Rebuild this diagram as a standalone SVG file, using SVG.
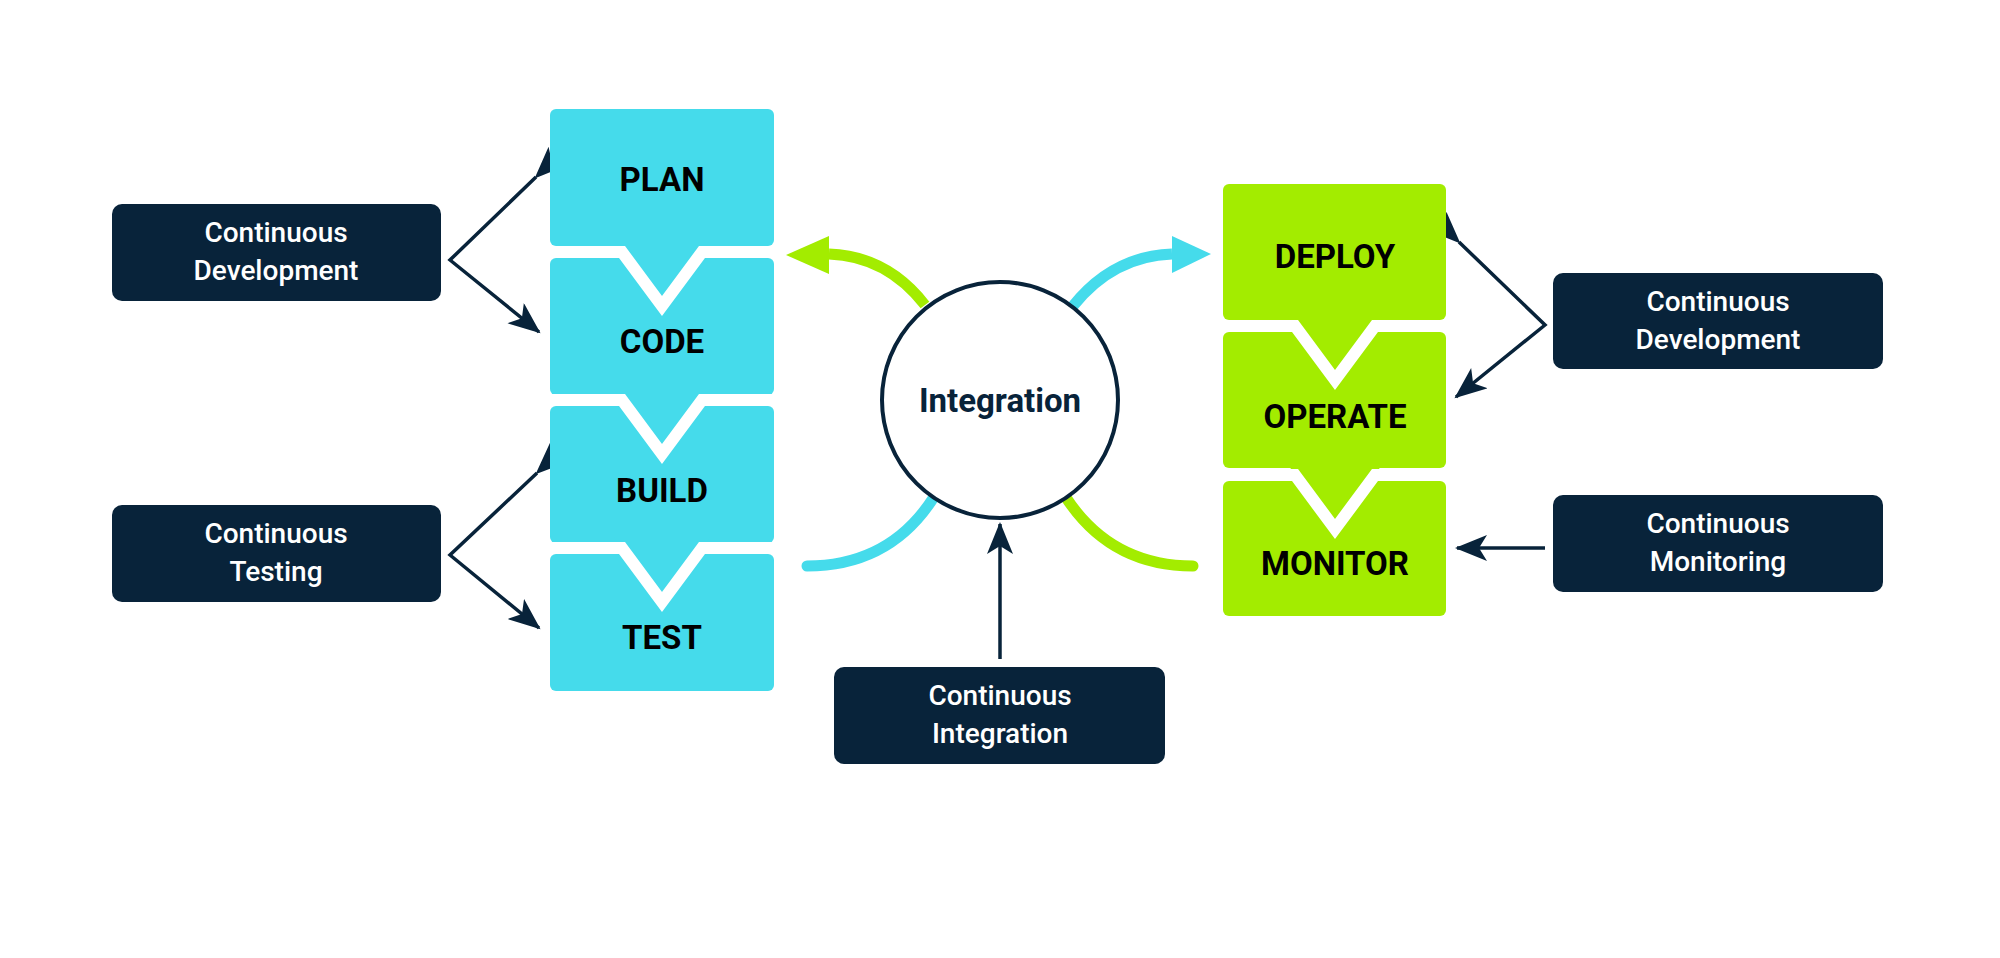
<svg xmlns="http://www.w3.org/2000/svg" width="2000" height="958" viewBox="0 0 2000 958">
<style>
.lbl{fill:#08233A}
.lt{font-family:Roboto,"Liberation Sans",sans-serif;font-size:28px;font-weight:500;fill:#fff;text-anchor:middle}
.bt{font-family:Roboto,"Liberation Sans",sans-serif;font-size:33px;font-weight:700;fill:#000;text-anchor:middle}
.blue{fill:#45DBEB}
.green{fill:#A3EC00}
.gap{fill:none;stroke:#fff;stroke-width:12;stroke-linejoin:miter}
.dl{fill:none;stroke:#08233A;stroke-width:3.5}
</style>
<defs>
<marker id="ah" markerUnits="userSpaceOnUse" markerWidth="34" markerHeight="28" refX="30" refY="13" orient="auto" viewBox="0 0 34 28">
<path d="M0,0 L32,13 L0,26 L8,13 z" fill="#08233A"/>
</marker>
</defs>
<rect width="2000" height="958" fill="#fff"/>
<g id="connectors">
<path d="M925,305 Q887,256 829,254" fill="none" stroke="#A3EC00" stroke-width="11"/>
<polygon points="786,255 829,236 829,274" fill="#A3EC00"/>
<path d="M934,497 Q890,566 807,566" fill="none" stroke="#45DBEB" stroke-width="11" stroke-linecap="round"/>
<path d="M1073,306 Q1113,256 1172,254" fill="none" stroke="#45DBEB" stroke-width="11"/>
<polygon points="1211,254 1172,236 1172,273" fill="#45DBEB"/>
<path d="M1065,496 Q1110,566 1193,566" fill="none" stroke="#A3EC00" stroke-width="11" stroke-linecap="round"/>
<polyline class="dl" points="536,177 450,260 539,332" marker-start="url(#ah)" marker-end="url(#ah)"/>
<polyline class="dl" points="537,473 450,555 539,628" marker-start="url(#ah)" marker-end="url(#ah)"/>
<polyline class="dl" points="1459,242 1545,325 1456,397" marker-start="url(#ah)" marker-end="url(#ah)"/>
<line class="dl" x1="1545" y1="548" x2="1457" y2="548" marker-end="url(#ah)"/>
<line class="dl" x1="1000" y1="659" x2="1000" y2="524" marker-end="url(#ah)"/>
</g>
<g id="blue-column">
<rect class="blue" x="550" y="109" width="224" height="137" rx="6"/>
<rect class="blue" x="550" y="258" width="224" height="137" rx="6"/>
<rect class="blue" x="550" y="406" width="224" height="137" rx="6"/>
<rect class="blue" x="550" y="554" width="224" height="137" rx="6"/>
<polygon class="blue" points="614,240 710,240 662,312"/>
<polygon class="blue" points="614,389 710,389 662,461"/>
<polygon class="blue" points="614,537 710,537 662,609"/>
<polyline class="gap" points="545,252 622,252 662,306 702,252 780,252"/>
<polyline class="gap" points="545,400 622,400 662,454 702,400 780,400"/>
<polyline class="gap" points="545,548 622,548 662,602 702,548 780,548"/>
</g>
<g id="plan"><text class="bt" x="662" y="191">PLAN</text></g>
<g id="code"><text class="bt" x="662" y="353">CODE</text></g>
<g id="build"><text class="bt" x="662" y="502">BUILD</text></g>
<g id="test"><text class="bt" x="662" y="649">TEST</text></g>
<g id="green-column">
<rect class="green" x="1223" y="184" width="223" height="136" rx="6"/>
<rect class="green" x="1223" y="332" width="223" height="136" rx="6"/>
<rect class="green" x="1223" y="481" width="223" height="135" rx="6"/>
<polygon class="green" points="1287,314 1383,314 1335,386"/>
<polygon class="green" points="1287,463 1383,463 1335,535"/>
<polyline class="gap" points="1218,326 1295,326 1335,380 1375,326 1452,326"/>
<polyline class="gap" points="1218,475 1295,475 1335,529 1375,475 1452,475"/>
</g>
<g id="deploy"><text class="bt" x="1335" y="268">DEPLOY</text></g>
<g id="operate"><text class="bt" x="1335" y="428">OPERATE</text></g>
<g id="monitor"><text class="bt" x="1335" y="575">MONITOR</text></g>
<g id="integration">
<circle cx="1000" cy="400" r="118" fill="#fff" stroke="#08233A" stroke-width="4"/>
<text class="bt" x="1000" y="412" style="fill:#08233A">Integration</text>
</g>
<g id="cont-dev-left">
<rect class="lbl" x="112" y="204" width="329" height="97" rx="10"/>
<text class="lt" x="276" y="242">Continuous</text>
<text class="lt" x="276" y="280">Development</text>
</g>
<g id="cont-testing">
<rect class="lbl" x="112" y="505" width="329" height="97" rx="10"/>
<text class="lt" x="276" y="543">Continuous</text>
<text class="lt" x="276" y="581">Testing</text>
</g>
<g id="cont-dev-right">
<rect class="lbl" x="1553" y="273" width="330" height="96" rx="10"/>
<text class="lt" x="1718" y="311">Continuous</text>
<text class="lt" x="1718" y="349">Development</text>
</g>
<g id="cont-monitoring">
<rect class="lbl" x="1553" y="495" width="330" height="97" rx="10"/>
<text class="lt" x="1718" y="533">Continuous</text>
<text class="lt" x="1718" y="571">Monitoring</text>
</g>
<g id="cont-integration">
<rect class="lbl" x="834" y="667" width="331" height="97" rx="10"/>
<text class="lt" x="1000" y="705">Continuous</text>
<text class="lt" x="1000" y="743">Integration</text>
</g>
</svg>
